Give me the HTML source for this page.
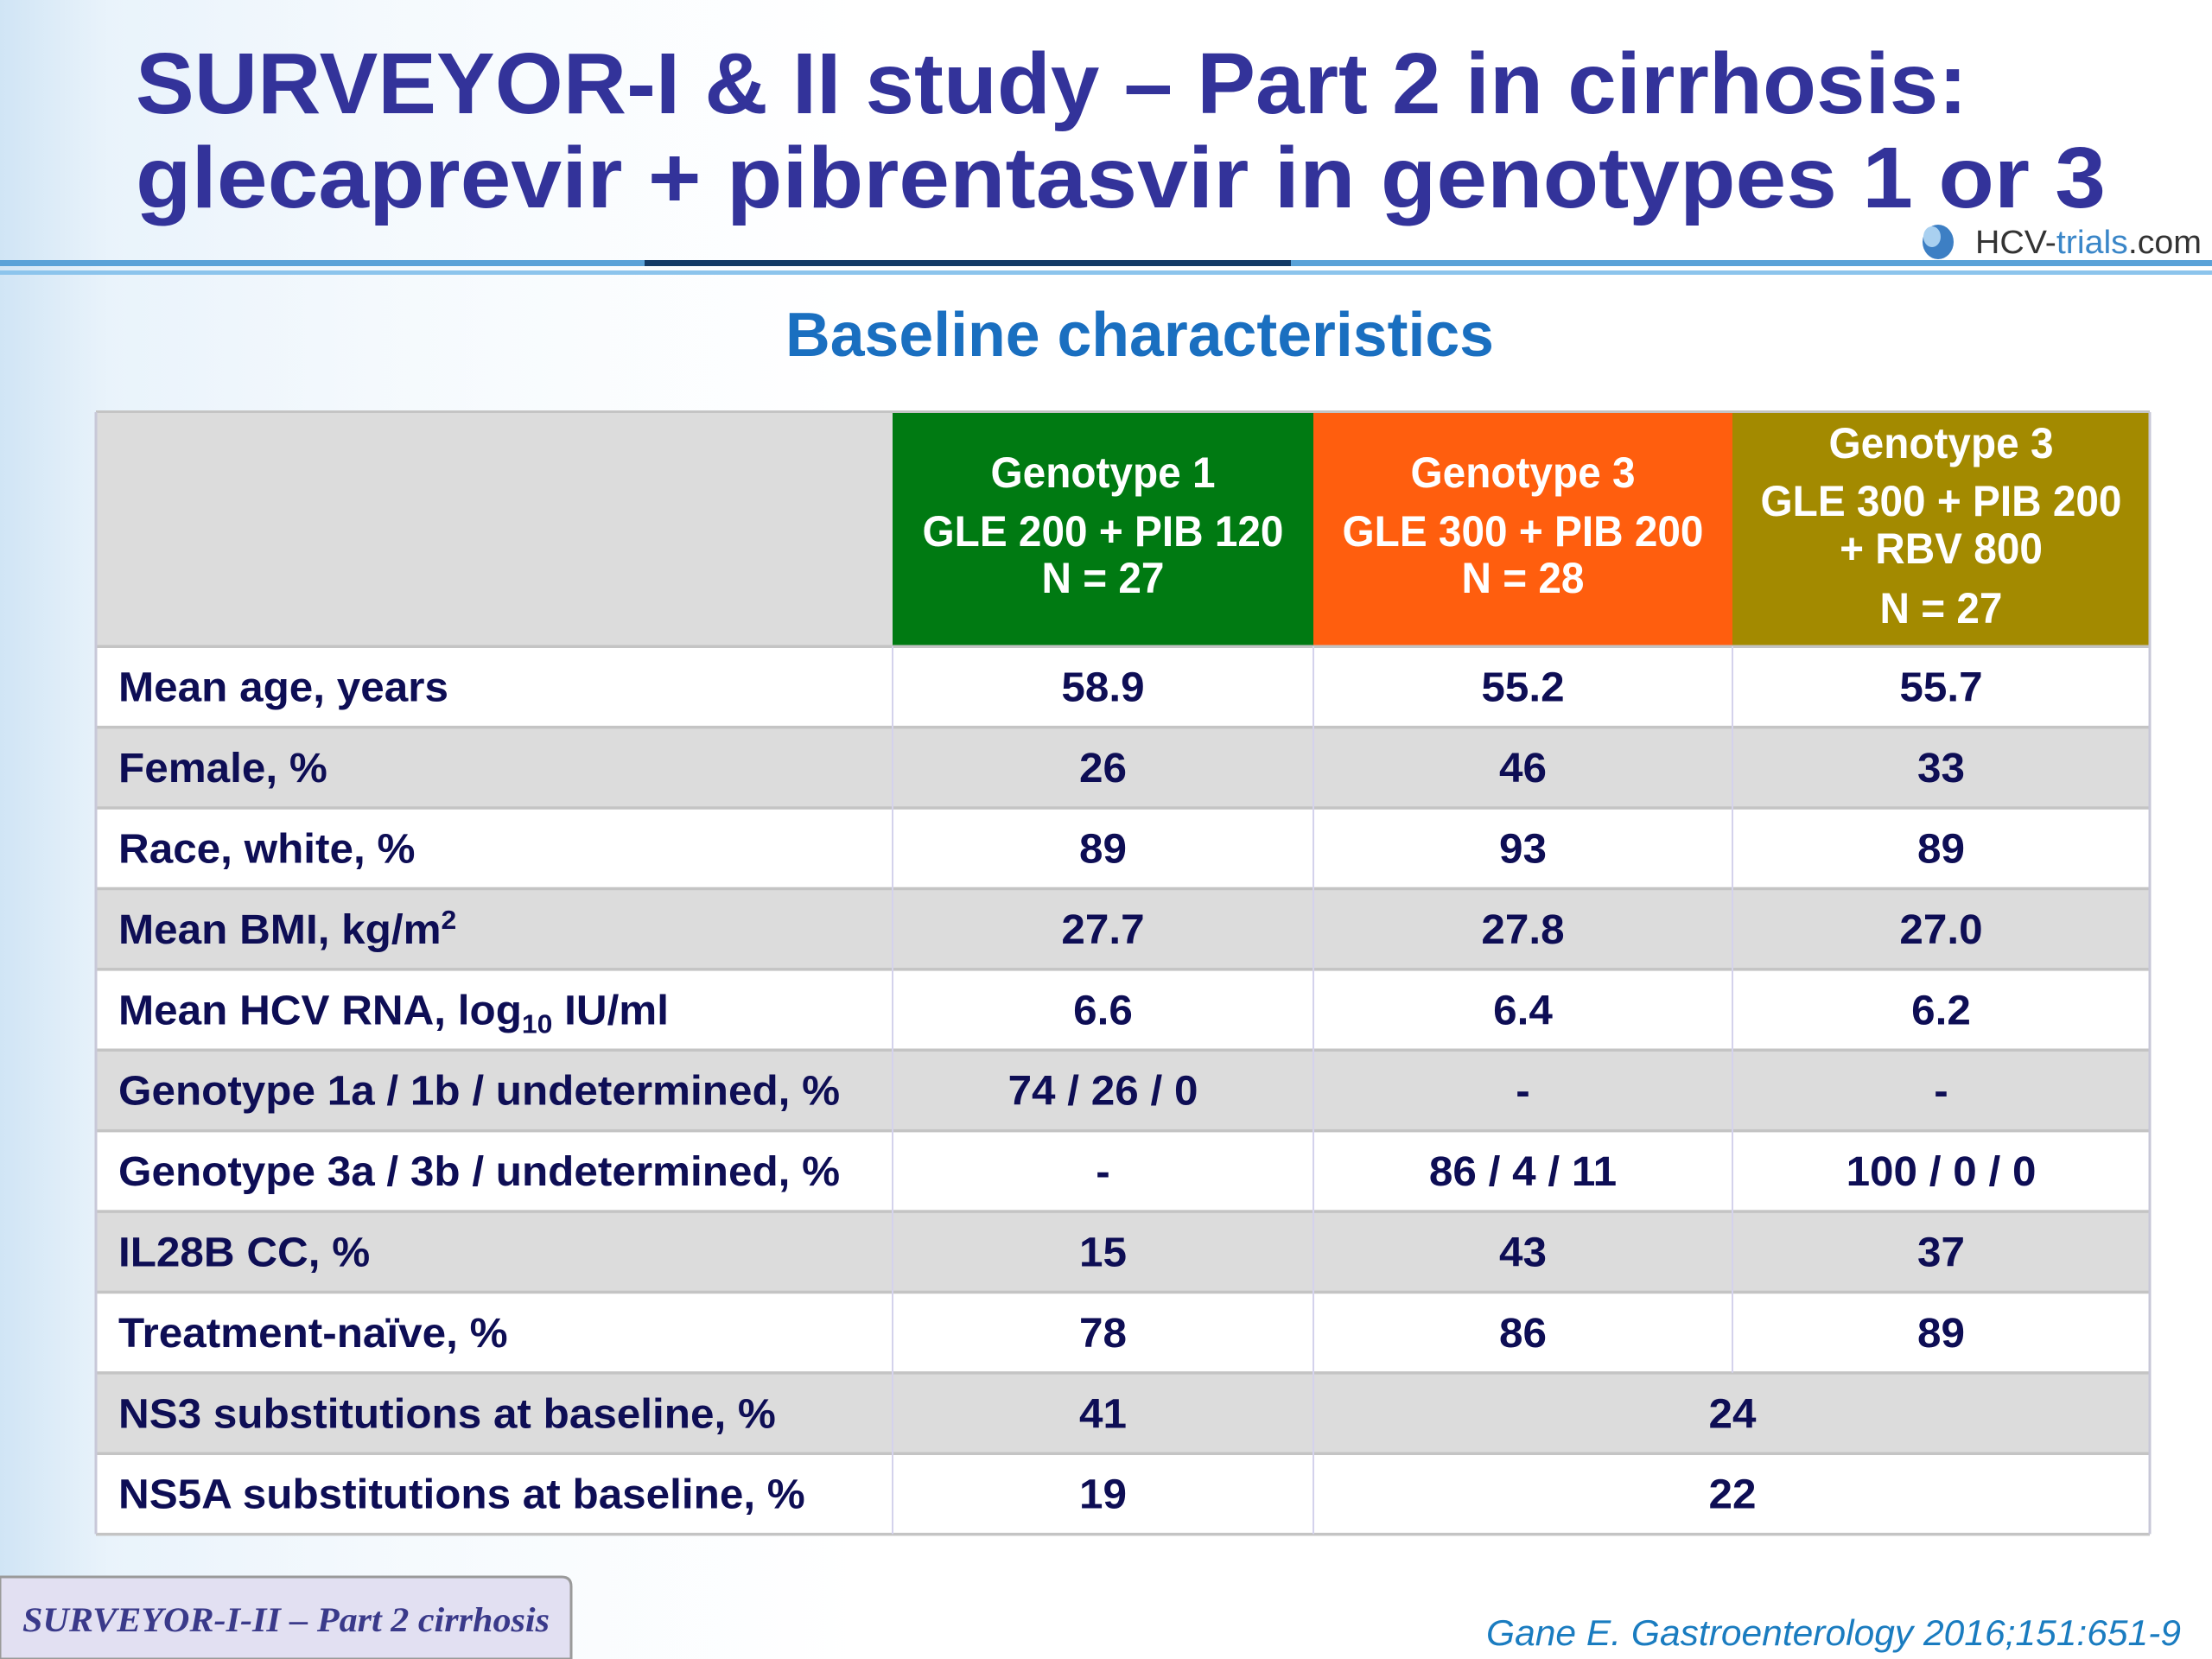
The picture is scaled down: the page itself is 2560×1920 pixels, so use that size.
<!DOCTYPE html>
<html><head><meta charset="utf-8">
<style>
html,body{margin:0;padding:0;}
body{width:2560px;height:1920px;overflow:hidden;background:linear-gradient(90deg,#dcebf7 0px,#eef6fc 120px,#f7fbfe 400px,#ffffff 1000px);font-family:"Liberation Sans",sans-serif;}
svg{display:block;}
</style></head>
<body>
<svg id="slide" width="2560" height="1920" viewBox="0 0 2560 1920" xmlns="http://www.w3.org/2000/svg">
  <defs>
    <linearGradient id="bgfade" x1="0" y1="0" x2="1" y2="0">
      <stop offset="0" stop-color="#cfe4f5" stop-opacity="0.9"/>
      <stop offset="0.05" stop-color="#e6f1fa" stop-opacity="0.6"/>
      <stop offset="0.4" stop-color="#ffffff" stop-opacity="0"/>
    </linearGradient>
  </defs>
  <rect x="0" y="0" width="2560" height="1920" fill="url(#bgfade)"/>
  <g fill="#33339a" font-weight="bold" font-size="100">
    <text x="157" y="131" textLength="2120" lengthAdjust="spacingAndGlyphs">SURVEYOR-I &amp; II study – Part 2 in cirrhosis:</text>
    <text x="157" y="240" textLength="2280" lengthAdjust="spacingAndGlyphs">glecaprevir + pibrentasvir in genotypes 1 or 3</text>
  </g>
  <g>
    <rect x="0" y="301" width="2560" height="7" fill="#5aa2d8"/>
    <rect x="746" y="301" width="748" height="7" fill="#123a66"/>
    <rect x="0" y="313" width="2560" height="5" fill="#8cc4ec"/>
  </g>
  <g>
    <ellipse cx="2243" cy="280" rx="18" ry="20" fill="#3d7fc4"/>
    <ellipse cx="2236" cy="274" rx="10" ry="12" fill="#a9d0f0"/>
    <text x="2286" y="293" font-size="38" fill="#333" textLength="262" lengthAdjust="spacingAndGlyphs">HCV-<tspan fill="#3a86c8">trials</tspan>.com</text>
  </g>
  <text x="1319" y="412" text-anchor="middle" font-size="72" font-weight="bold" fill="#1a6fc0" textLength="820" lengthAdjust="spacingAndGlyphs">Baseline characteristics</text>
  <g id="table"></g>
  <g>
    <path d="M0,1825 L650,1825 Q661,1825 661,1836 L661,1920 L0,1920 Z" fill="#e2e0f2" stroke="#9a9a9a" stroke-width="3"/>
    <text x="26" y="1888" font-family="Liberation Serif,serif" font-style="italic" font-weight="bold" font-size="40" fill="#3a3a8a" textLength="610" lengthAdjust="spacingAndGlyphs">SURVEYOR-I-II – Part 2 cirrhosis</text>
  </g>
  <text x="2524" y="1904" text-anchor="end" font-style="italic" font-size="42" fill="#1a7cc0" textLength="804" lengthAdjust="spacingAndGlyphs">Gane E. Gastroenterology 2016;151:651-9</text>
</svg>
<script>
const rowLabels = ["Mean age, years","Female, %","Race, white, %","Mean BMI, kg/m|2","Mean HCV RNA, log_10 IU/ml","Genotype 1a / 1b / undetermined, %","Genotype 3a / 3b / undetermined, %","IL28B CC, %","Treatment-naïve, %","NS3 substitutions at baseline, %","NS5A substitutions at baseline, %"];
const colG1 = ["58.9","26","89","27.7","6.6","74 / 26 / 0","-","15","78","41","19"];
const colG3 = ["55.2","46","93","27.8","6.4","-","86 / 4 / 11","43","86","",""];
const colG3R = ["55.7","33","89","27.0","6.2","-","100 / 0 / 0","37","89","",""];
const mergedG3 = ["","","","","","","","","","24","22"];
const headerLines = [["Genotype 1","GLE 200 + PIB 120","N = 27"],["Genotype 3","GLE 300 + PIB 200","N = 28"],["Genotype 3","GLE 300 + PIB 200","+ RBV 800","N = 27"]];
const headerColors = ["#007a12","#ff5e0e","#a38a00"];

const NS="http://www.w3.org/2000/svg";
const T=document.getElementById('table');
const X0=111,X1=2488,cols=[111,1033,1520,2005,2488],HY0=477,HY1=748,RH=93.4;
function mk(tag,attrs){const e=document.createElementNS(NS,tag);for(const k in attrs)e.setAttribute(k,attrs[k]);return e;}
const hb=mk('rect',{x:X0,y:HY0,width:cols[1]-X0,height:HY1-HY0,fill:'#dcdcdc'});


T.appendChild(hb);
const hYs=[[547,615,669],[547,615,669],[513,580,635,704]];
headerLines.forEach((lines,i)=>{
  const r=mk('rect',{x:cols[i+1],y:HY0,width:cols[i+2]-cols[i+1],height:HY1-HY0,fill:headerColors[i]});
  
  
  T.appendChild(r);
  const cx=(cols[i+1]+cols[i+2])/2;
  lines.forEach((ln,j)=>{
    const t=mk('text',{x:0,y:0,'text-anchor':'middle','font-size':50,'font-weight':'bold',fill:'#fff',transform:`translate(${cx},${hYs[i][j]+17}) scale(0.955,1)`});
    t.textContent=ln;
    
    
    T.appendChild(t);
  });
});
T.appendChild(mk('rect',{x:X0,y:HY0-2,width:X1-X0,height:3,fill:'#c4c4c4'}));
function addText(str,x,y,anchor){
  const t=mk('text',{x:0,y:0,'text-anchor':anchor,'font-size':48,'font-weight':'bold',fill:'#0e0e55',transform:`translate(${x},${y}) scale(1.03,1)`});
  if(str.includes('|')){const [a,b]=str.split('|');t.appendChild(document.createTextNode(a));const s=mk('tspan',{'font-size':31,dy:-17});s.textContent=b;t.appendChild(s);}
  else if(str.includes('_')){const m=str.match(/^(.*)_(\d+)(.*)$/);t.appendChild(document.createTextNode(m[1]));const s=mk('tspan',{'font-size':31,dy:10});s.textContent=m[2];t.appendChild(s);const r=mk('tspan',{dy:-10});r.textContent=m[3];t.appendChild(r);}
  else t.textContent=str;
  T.appendChild(t);return t;
}
rowLabels.forEach((lab,i)=>{
  const y=HY1+i*RH;
  const r=mk('rect',{x:X0,y:y,width:X1-X0,height:RH,fill:i%2===1?'#dcdcdc':'#ffffff'});
  
  
  T.appendChild(r);
  const ty=y+RH/2+17;
  const lt=addText(lab,137,ty,'start');
  
  
  const c1=addText(colG1[i],(cols[1]+cols[2])/2,ty,'middle');
  
  
  if(mergedG3[i]){
    const m=addText(mergedG3[i],cols[3],ty,'middle');
    
    
  } else {
    const c2=addText(colG3[i],(cols[2]+cols[3])/2,ty,'middle');
    
    
    const c3=addText(colG3R[i],(cols[3]+cols[4])/2,ty,'middle');
    
    
  }
});
for(let i=0;i<=rowLabels.length;i++){const y=HY1+i*RH;T.appendChild(mk('rect',{x:X0,y:y-1.5,width:X1-X0,height:3.5,fill:'#c4c4c4'}));}
const yEnd=HY1+rowLabels.length*RH;
[1,2].forEach(c=>T.appendChild(mk('line',{x1:cols[c],y1:HY1,x2:cols[c],y2:yEnd,stroke:'#d4d2ec','stroke-width':2})));
T.appendChild(mk('line',{x1:cols[3],y1:HY1,x2:cols[3],y2:HY1+9*RH,stroke:'#d4d2ec','stroke-width':2}));
[X0,X1].forEach(x=>T.appendChild(mk('line',{x1:x,y1:HY0,x2:x,y2:yEnd,stroke:'#c8c8d8','stroke-width':3})));
</script>
</body></html>
